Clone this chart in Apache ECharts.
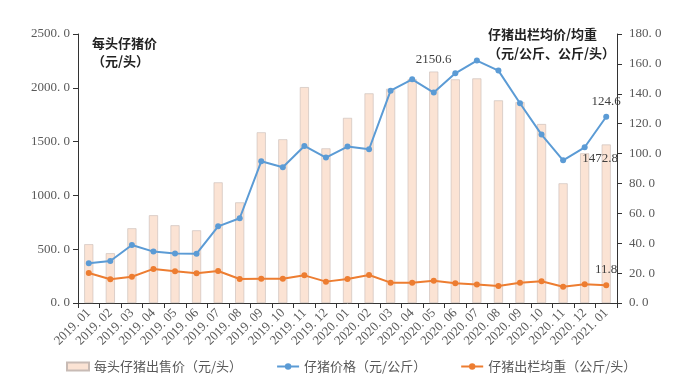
<!DOCTYPE html>
<html><head><meta charset="utf-8">
<script src="https://cdn.jsdelivr.net/npm/echarts@6/dist/echarts.min.js"></script>
<style>html,body{margin:0;padding:0;background:#fff}#c{width:692px;height:386px}</style>
</head><body><div id="c"></div>
<script>
var categories = ['2019.01','2019.02','2019.03','2019.04','2019.05','2019.06','2019.07','2019.08','2019.09','2019.10','2019.11','2019.12','2020.01','2020.02','2020.03','2020.04','2020.05','2020.06','2020.07','2020.08','2020.09','2020.10','2020.11','2020.12','2021.01'];
var pigletPricePerHead = [546,462,694,815,722,675,1121,935,1586,1521,2006,1437,1720,1948,1990,2080,2150.6,2078,2087,1883,1867,1663,1112,1391,1472.8];
var pigletPricePerKg = [26.6,28.1,38.8,34.4,33.2,33.0,51.3,56.7,94.8,90.8,105.1,97.3,104.7,102.9,142.1,149.7,140.8,153.7,162.2,155.5,133.7,112.7,95.5,104.2,124.6];
var avgWeight = [20.1,15.9,17.6,22.8,21.2,19.9,21.4,16.1,16.2,16.2,18.5,14.3,16.0,18.7,13.6,13.6,14.9,13.2,12.3,11.4,13.6,14.5,10.9,12.5,11.8];
var leftTicks = [0,500,1000,1500,2000,2500];
var rightTicks = [0,20,40,60,80,100,120,140,160,180];
var seriesNames = ['每头仔猪出售价（元/头）','仔猪价格（元/公斤）','仔猪出栏均重（公斤/头）'];
var leftTitle = '每头仔猪价\n（元/头）';
var rightTitle = '仔猪出栏均价/均重\n（元/公斤、公斤/头）';

var FONT = "'Liberation Serif','Noto Sans CJK SC',serif";
var chart = echarts.init(document.getElementById('c'), null, {renderer: 'canvas'});
function lastOnly(arr, idx){ return arr.map(function(v,i){ return i===idx ? {value:v, label:{show:true}} : v; }); }
var barData = pigletPricePerHead.map(function(v,i){
  if (i===16) return {value:v, label:{show:true, position:'top', distance:6}};
  if (i===24) return {value:v, label:{show:true, position:'insideTop', distance:8, offset:[-6,0]}};
  return v;
});
function fmt(v){ return v.toFixed(1).replace('.', '. '); }
chart.setOption({
  animation: false,
  textStyle: {fontFamily: FONT},
  grid: {left: 78, right: 75, top: 34, bottom: 83},
  legend: {
    bottom: 8, left: 61, itemGap: 34, itemWidth: 22, itemHeight: 8,
    textStyle: {fontFamily: "'Noto Sans CJK SC'", fontSize: 13, color: '#595959'},
    data: [
      {name: seriesNames[0], icon: 'rect'},
      {name: seriesNames[1]},
      {name: seriesNames[2]}
    ]
  },
  graphic: [
    {type: 'text', left: 92, top: 34, style: {text: leftTitle, font: "bold 13px 'Noto Sans CJK SC'", fill: '#222', lineHeight: 18}},
    {type: 'text', left: 488, top: 25, style: {text: rightTitle, font: "bold 13px 'Noto Sans CJK SC'", fill: '#222', lineHeight: 19, align: 'center', x: 60}}
  ],
  xAxis: {
    type: 'category', data: categories,
    axisLine: {lineStyle: {color: '#333'}},
    axisTick: {show: true, alignWithLabel: false, lineStyle: {color: '#333'}},
    axisLabel: {rotate: 45, fontSize: 13, color: '#595959', margin: 8, interval: 0,
      formatter: function(v){ return v.replace('.', '. '); }}
  },
  yAxis: [
    {type: 'value', min: 0, max: 2500, interval: 500,
      axisLine: {show: true, lineStyle: {color: '#333'}},
      axisTick: {show: true, lineStyle: {color: '#333'}},
      splitLine: {show: false},
      axisLabel: {fontSize: 13, color: '#595959', formatter: fmt}},
    {type: 'value', min: 0, max: 180, interval: 20,
      axisLine: {show: true, lineStyle: {color: '#333'}},
      axisTick: {show: true, lineStyle: {color: '#333'}},
      splitLine: {show: false},
      axisLabel: {fontSize: 13, color: '#595959', margin: 12, formatter: fmt}}
  ],
  series: [
    {name: seriesNames[0], type: 'bar', yAxisIndex: 0, barWidth: 9, data: barData,
      itemStyle: {color: '#fbe3d4', borderColor: '#c8bbb5', borderWidth: 0.6},
      label: {show: false, fontSize: 13, color: '#404040', fontFamily: FONT, formatter: function(p){ return p.value.toFixed(1); }}},
    {name: seriesNames[1], type: 'line', yAxisIndex: 1, data: lastOnly(pigletPricePerKg, 24),
      symbol: 'circle', symbolSize: 6, lineStyle: {width: 2, color: '#5b9bd5'}, itemStyle: {color: '#5b9bd5'},
      label: {show: false, position: 'top', distance: 6, fontSize: 13, color: '#404040', fontFamily: FONT, formatter: function(p){ return p.value.toFixed(1); }}},
    {name: seriesNames[2], type: 'line', yAxisIndex: 1, data: lastOnly(avgWeight, 24),
      symbol: 'circle', symbolSize: 6, lineStyle: {width: 2, color: '#ed7d31'}, itemStyle: {color: '#ed7d31'},
      label: {show: false, position: 'top', distance: 6, fontSize: 13, color: '#404040', fontFamily: FONT, formatter: function(p){ return p.value.toFixed(1); }}}
  ]
});
</script></body></html>
